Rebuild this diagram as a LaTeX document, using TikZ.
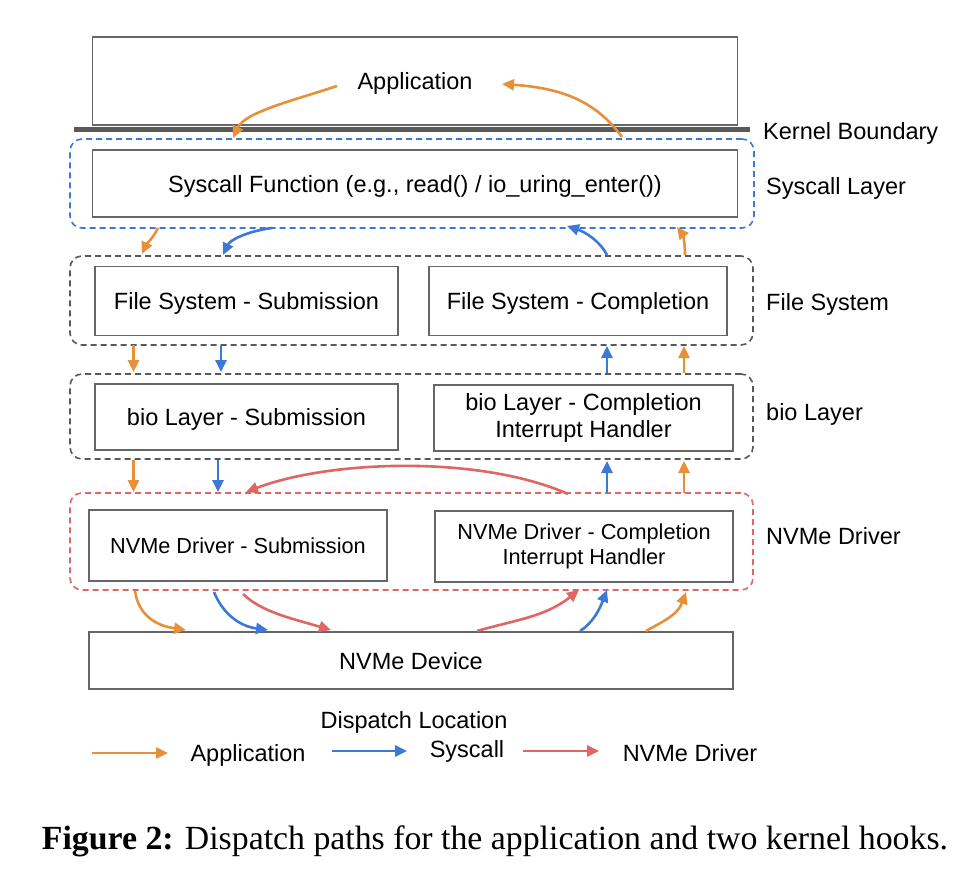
\documentclass[tikz,border=0pt]{standalone}
\usepackage{fontspec}
\setmainfont{Liberation Sans}
\newfontfamily\capfont{Liberation Serif}
\usetikzlibrary{arrows.meta}
\definecolor{orA}{HTML}{E69138}
\definecolor{blA}{HTML}{3C78D8}
\definecolor{rdA}{HTML}{E06666}
\definecolor{grA}{HTML}{595959}
\definecolor{bdA}{HTML}{666666}
\begin{document}
\begin{tikzpicture}[x=1pt,y=-1pt,
  box/.style={draw=bdA, line width=1.3pt, fill=white, inner sep=0pt, align=center, font=\fontsize{23.5}{27}\selectfont},
  nbox/.style={box, font=\fontsize{21.7}{25}\selectfont},
  layer/.style={draw=#1, dash pattern=on 6pt off 4pt, line width=1.6pt, rounded corners=12pt, inner sep=0pt},
  lbl/.style={anchor=west, font=\fontsize{23.5}{27}\selectfont, inner sep=0pt, text depth=0pt},
  ltxt/.style={font=\fontsize{23.5}{27}\selectfont, inner sep=0pt, text depth=0pt},
  arr/.style={draw=#1, line width=2.6pt, -{Triangle[length=12pt,width=11pt]}},
]
\useasboundingbox (0,0) rectangle (976,874);
\fill[white] (0,0) rectangle (976,874);

% layers
\node[layer=blA, minimum width=684pt, minimum height=89pt] (sysL) at (412,183.5) {};
\node[layer=grA, minimum width=683pt, minimum height=89pt] (fsL) at (411.5,300.5) {};
\node[layer=grA, minimum width=683pt, minimum height=85pt] (bioL) at (411.5,416.5) {};
\node[layer=rdA, minimum width=683pt, minimum height=97pt] (nvL) at (411.5,541.5) {};

% boxes
\node[box, text depth=0pt, minimum width=645pt, minimum height=88pt] (app) at (415,81) {Application};
\draw[grA, line width=5pt] (74,130) coordinate (kb1) -- (750,130) coordinate (kb2);
\node[box, text depth=0pt, minimum width=645pt, minimum height=67pt] (sysF) at (415,183.5) {Syscall Function (e.g., read() / io\_uring\_enter())};
\node[box, text depth=0pt, minimum width=303pt, minimum height=69pt] (fsS) at (246.5,301) {File System - Submission};
\node[box, text depth=0pt, minimum width=298pt, minimum height=69pt] (fsC) at (578,301) {File System - Completion};
\node[box, text depth=0pt, minimum width=303pt, minimum height=66pt] (bioS) at (246.5,417) {bio Layer - Submission};
\node[box, minimum width=299pt, minimum height=66pt] (bioC) at (583.5,418) {bio Layer - Completion\\Interrupt Handler};
\node[nbox, text depth=0pt, minimum width=298pt, minimum height=71pt] (nvS) at (238,545.5) {NVMe Driver - Submission};
\node[nbox, minimum width=298pt, minimum height=71pt] (nvC) at (584,546.5) {NVMe Driver - Completion\\Interrupt Handler};
\node[box, text depth=0pt, minimum width=644pt, minimum height=57pt] (dev) at (411,660.5) {NVMe Device};

% side labels
\node[lbl] (lkb) at (763,131) {Kernel Boundary};
\node[lbl] (lsys) at (766,186) {Syscall Layer};
\node[lbl] (lfs) at (766,302) {File System};
\node[lbl] (lbio) at (766,412) {bio Layer};
\node[lbl] (lnv) at (766,536) {NVMe Driver};

% coordinates for arrow ends
\coordinate (o1s) at (337,86);   \coordinate (o1e) at (233,138);
\coordinate (o2s) at (622,137);  \coordinate (o2e) at (502,84);
\coordinate (o3s) at (158,228);  \coordinate (o3e) at (142,254);
\coordinate (b4s) at (272,228);  \coordinate (b4e) at (223,255);
\coordinate (b5s) at (607,255);  \coordinate (b5e) at (567,226);
\coordinate (o6s) at (685,255);  \coordinate (o6e) at (677,227);
% straight arrows
\draw[arr=orA] (133.5,345) coordinate (p1) -- (133.5,372) coordinate (p2);
\draw[arr=blA] (221,345) coordinate (p3) -- (221,372) coordinate (p4);
\draw[arr=blA] (607,373) coordinate (p5) -- (607,346) coordinate (p6);
\draw[arr=orA] (684,373) coordinate (p7) -- (684,346) coordinate (p8);
\draw[arr=orA] (133.5,460) coordinate (q1) -- (133.5,492) coordinate (q2);
\draw[arr=blA] (218,460) coordinate (q3) -- (218,492) coordinate (q4);
\draw[arr=blA] (607,493) coordinate (q5) -- (607,461) coordinate (q6);
\draw[arr=orA] (684,493) coordinate (q7) -- (684,461) coordinate (q8);

% curved arrows top
\draw[arr=orA] (o1s) .. controls (295,100) and (245,112) .. (o1e);
\draw[arr=orA] (o2s) .. controls (595,100) and (560,88) .. (o2e);
\draw[arr=orA] (o3s) .. controls (153,238) and (146,245) .. (o3e);
\draw[arr=blA] (b4s) .. controls (248,231) and (230,240) .. (b4e);
\draw[arr=blA] (b5s) .. controls (600,241) and (585,232) .. (b5e);
\draw[arr=orA] (o6s) .. controls (685,244) and (683,235) .. (o6e);

% red arrow across
\coordinate (r1s) at (568,494); \coordinate (r1e) at (246,492);
\draw[arr=rdA] (r1s) .. controls (480,455) and (330,460) .. (r1e);

% bottom arrows
\coordinate (ob1) at (135,591); \coordinate (ob2) at (186,630);
\coordinate (bb1) at (214,592); \coordinate (bb2) at (268,630);
\coordinate (rb1) at (243,594); \coordinate (rb2) at (331,630);
\coordinate (ru1) at (477,631); \coordinate (ru2) at (579,590);
\coordinate (bu1) at (580,631); \coordinate (bu2) at (607,590);
\coordinate (ou1) at (646,631); \coordinate (ou2) at (686,592);
\draw[arr=orA] (ob1) .. controls (138,612) and (152,625) .. (ob2);
\draw[arr=blA] (bb1) .. controls (222,612) and (238,626) .. (bb2);
\draw[arr=rdA] (rb1) .. controls (262,612) and (290,618) .. (rb2);
\draw[arr=rdA] (ru1) .. controls (515,620) and (545,617) .. (ru2);
\draw[arr=blA] (bu1) .. controls (594,622) and (600,608) .. (bu2);
\draw[arr=orA] (ou1) .. controls (666,620) and (678,614) .. (ou2);

% legend
\coordinate (lo1) at (92,753); \coordinate (lo2) at (168,753);
\coordinate (lb1) at (332,751); \coordinate (lb2) at (407,751);
\coordinate (lr1) at (523,751); \coordinate (lr2) at (599,751);
\draw[arr=orA] (lo1) -- (lo2);
\draw[arr=blA] (lb1) -- (lb2);
\draw[arr=rdA] (lr1) -- (lr2);
\node[ltxt] (tapp) at (248,753) {Application};
\node[ltxt] (tdl) at (414,720) {Dispatch Location};
\node[ltxt] (tsys) at (467,749) {Syscall};
\node[ltxt] (tnv) at (690,753) {NVMe Driver};

% caption
\node[font=\capfont\fontsize{33.8}{40}\selectfont, inner sep=0pt, text depth=0pt] (cap) at (495,838) {\textbf{Figure 2:} Dispatch paths for the application and two kernel hooks.};
\end{tikzpicture}
\end{document}
